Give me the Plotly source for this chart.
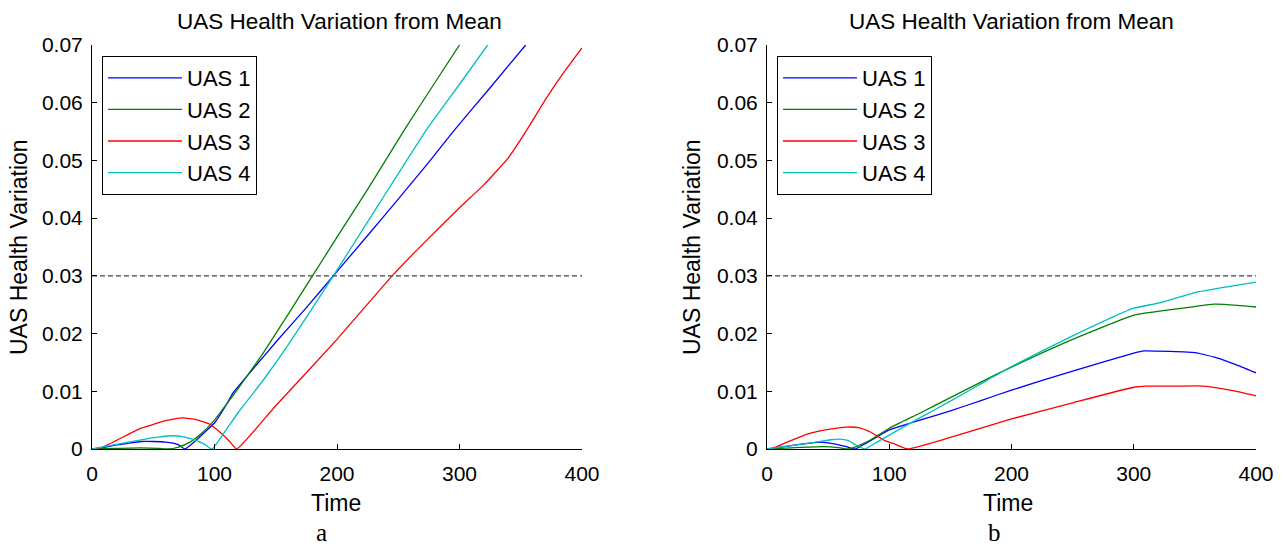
import plotly.graph_objects as go

W, H = 1284, 548

SERIES = ["UAS 1", "UAS 2", "UAS 3", "UAS 4"]
COLORS = ["#0000FF", "#008000", "#FF0000", "#00BFBF"]

# ---- panel a ----
a_t1 = [0, 10, 20, 30, 40, 50, 60, 70, 76, 85, 95, 100, 110, 115, 130, 150, 175, 197, 225, 250, 275, 296, 325, 354]
a_v1 = [0, 0.0003, 0.0007, 0.001, 0.0013, 0.0013, 0.0012, 0.0008, 0, 0.0015, 0.0035, 0.0045, 0.0078, 0.0097, 0.0135, 0.0185, 0.0245, 0.0300, 0.0370, 0.0433, 0.0497, 0.0553, 0.0626, 0.070]

a_t2 = [0, 20, 40, 55, 62, 70, 80, 90, 100, 110, 120, 140, 160, 180, 200, 225, 255, 280, 300]
a_v2 = [0, 0.0001, 0.0002, 0.0001, 0, 0.0003, 0.0012, 0.0028, 0.005, 0.0078, 0.0107, 0.0167, 0.0233, 0.030, 0.0367, 0.045, 0.0553, 0.0635, 0.070]

a_t3 = [0, 5, 20, 40, 60, 74, 85, 97, 105, 112, 118, 150, 200, 245, 270, 300, 320, 340, 355, 370, 385, 400]
a_v3 = [0, 0, 0.0015, 0.0036, 0.0049, 0.0054, 0.0051, 0.0042, 0.0028, 0.0014, 0, 0.0075, 0.019, 0.030, 0.0355, 0.0418, 0.0458, 0.0505, 0.0553, 0.0605, 0.0652, 0.0695]

a_t4 = [0, 20, 40, 55, 65, 75, 85, 92, 98, 110, 120, 140, 160, 197, 235, 273, 300, 323]
a_v4 = [0, 0.0008, 0.0016, 0.0021, 0.0023, 0.0021, 0.0015, 0.0008, 0, 0.0035, 0.0065, 0.012, 0.018, 0.030, 0.0427, 0.0553, 0.0632, 0.070]

# ---- panel b ----
b_t1 = [0, 10, 20, 30, 43, 55, 65, 72, 80, 90, 100, 125, 150, 175, 200, 250, 300, 308, 330, 350, 368, 385, 400]
b_v1 = [0, 0.0003, 0.0006, 0.0009, 0.0012, 0.0009, 0.0004, 0, 0.0009, 0.0021, 0.0033, 0.005, 0.0066, 0.0084, 0.0102, 0.0135, 0.0166, 0.0170, 0.0169, 0.0167, 0.0158, 0.0145, 0.0132]

b_t2 = [0, 20, 45, 60, 66, 75, 85, 100, 125, 150, 175, 200, 250, 300, 321, 340, 366, 385, 400]
b_v2 = [0, 0.0002, 0.0004, 0.0002, 0, 0.0006, 0.0016, 0.0036, 0.0062, 0.0089, 0.0116, 0.0142, 0.019, 0.0232, 0.0239, 0.0244, 0.0251, 0.0249, 0.0246]

b_t3 = [0, 3, 20, 35, 50, 65, 75, 85, 96, 105, 115, 150, 200, 250, 300, 310, 335, 357, 381, 400]
b_v3 = [0, 0, 0.0015, 0.0027, 0.0034, 0.0038, 0.0037, 0.0029, 0.0015, 0.0008, 0, 0.002, 0.0052, 0.008, 0.0107, 0.0109, 0.0109, 0.0109, 0.0101, 0.0092]

b_t4 = [0, 20, 40, 52, 60, 66, 72, 80, 90, 100, 125, 150, 180, 200, 250, 300, 321, 350, 400]
b_v4 = [0, 0.0006, 0.0012, 0.0016, 0.0017, 0.0015, 0.0008, 0, 0.0012, 0.0024, 0.0054, 0.0083, 0.0119, 0.0143, 0.0196, 0.0244, 0.0253, 0.0271, 0.0289]

THRESHOLD = 0.03
X_RANGE = [0, 400]
Y_RANGE = [0, 0.07]
X_TICKS = [0, 100, 200, 300, 400]
X_TICKTEXT = ["0", "100", "200", "300", "400"]
Y_TICKS = [0, 0.01, 0.02, 0.03, 0.04, 0.05, 0.06, 0.07]
Y_TICKTEXT = ["0", "0.01", "0.02", "0.03", "0.04", "0.05", "0.06", "0.07"]

TITLE = "UAS Health Variation from Mean"
XLABEL = "Time"
YLABEL = "UAS Health Variation"
PANEL_LABELS = ["a", "b"]

panels = [
    ([a_t1, a_t2, a_t3, a_t4], [a_v1, a_v2, a_v3, a_v4]),
    ([b_t1, b_t2, b_t3, b_t4], [b_v1, b_v2, b_v3, b_v4]),
]

FONT = "Liberation Sans, Arial, Helvetica, sans-serif"

fig = go.Figure()
for p, (ts, vs) in enumerate(panels):
    xa = "x" if p == 0 else "x2"
    ya = "y" if p == 0 else "y2"
    lg = "legend" if p == 0 else "legend2"
    for name, color, t, v in zip(SERIES, COLORS, ts, vs):
        fig.add_trace(go.Scatter(x=t, y=v, mode="lines", name=name,
                                 line=dict(color=color, width=1.3, shape="spline", smoothing=0.4),
                                 xaxis=xa, yaxis=ya, legend=lg))
    fig.add_trace(go.Scatter(x=X_RANGE, y=[THRESHOLD, THRESHOLD], mode="lines",
                             line=dict(color="#444444", width=1.2, dash="5px,3px"),
                             showlegend=False, xaxis=xa, yaxis=ya))

def px_x(v):
    return v / W

def px_y(v):
    return 1 - v / H

plot_left = [92, 767]
plot_right = [582, 1256]
plot_top, plot_bottom = 45, 449

axis_common = dict(showline=True, linecolor="black", linewidth=1, ticks="inside",
                   ticklen=5, tickwidth=1, tickcolor="black", showgrid=False,
                   zeroline=False, mirror=False, fixedrange=True, automargin=False)

for p in range(2):
    sfx = "" if p == 0 else "2"
    fig.layout["xaxis" + sfx] = dict(
        axis_common, domain=[px_x(plot_left[p]), px_x(plot_right[p])], range=X_RANGE,
        tickvals=X_TICKS, ticktext=X_TICKTEXT, anchor="y" + sfx,
        tickfont=dict(family=FONT, size=21, color="black"), ticklabelstandoff=6)
    fig.layout["yaxis" + sfx] = dict(
        axis_common, domain=[px_y(plot_bottom), px_y(plot_top)], range=Y_RANGE,
        tickvals=Y_TICKS, ticktext=Y_TICKTEXT, anchor="x" + sfx,
        tickfont=dict(family=FONT, size=21, color="black"), ticklabelstandoff=4)

annotations = []
title_cx = [339, 1011]
ylabel_cx = [19, 692]
panel_cx = [321, 994]
for p in range(2):
    annotations.append(dict(text=TITLE, x=px_x(title_cx[p]), y=px_y(21), xref="paper", yref="paper",
                            xanchor="center", yanchor="middle", showarrow=False,
                            font=dict(family=FONT, size=22.5, color="black")))
    annotations.append(dict(text=XLABEL, x=px_x(title_cx[p] - 3), y=px_y(503), xref="paper", yref="paper",
                            xanchor="center", yanchor="middle", showarrow=False,
                            font=dict(family=FONT, size=23, color="black")))
    annotations.append(dict(text=YLABEL, x=px_x(ylabel_cx[p]), y=px_y(247), xref="paper", yref="paper",
                            xanchor="center", yanchor="middle", showarrow=False, textangle=-90,
                            font=dict(family=FONT, size=23, color="black")))
    annotations.append(dict(text=PANEL_LABELS[p], x=px_x(panel_cx[p]), y=0, xref="paper", yref="paper",
                            xanchor="center", yanchor="bottom", showarrow=False,
                            font=dict(family="Liberation Serif, DejaVu Serif, serif", size=25, color="black")))

legend_common = dict(bgcolor="white", bordercolor="black", borderwidth=1,
                     font=dict(family=FONT, size=22, color="black"),
                     xanchor="left", yanchor="top", itemwidth=74,
                     tracegroupgap=0, itemclick=False, itemdoubleclick=False)

fig.update_layout(
    template="none",
    width=W, height=H,
    margin=dict(l=0, r=0, t=0, b=0, autoexpand=False),
    paper_bgcolor="white", plot_bgcolor="white",
    showlegend=True,
    legend=dict(legend_common, x=px_x(102), y=px_y(56)),
    legend2=dict(legend_common, x=px_x(777), y=px_y(56)),
    annotations=annotations,
)

fig.write_html("out.html")
